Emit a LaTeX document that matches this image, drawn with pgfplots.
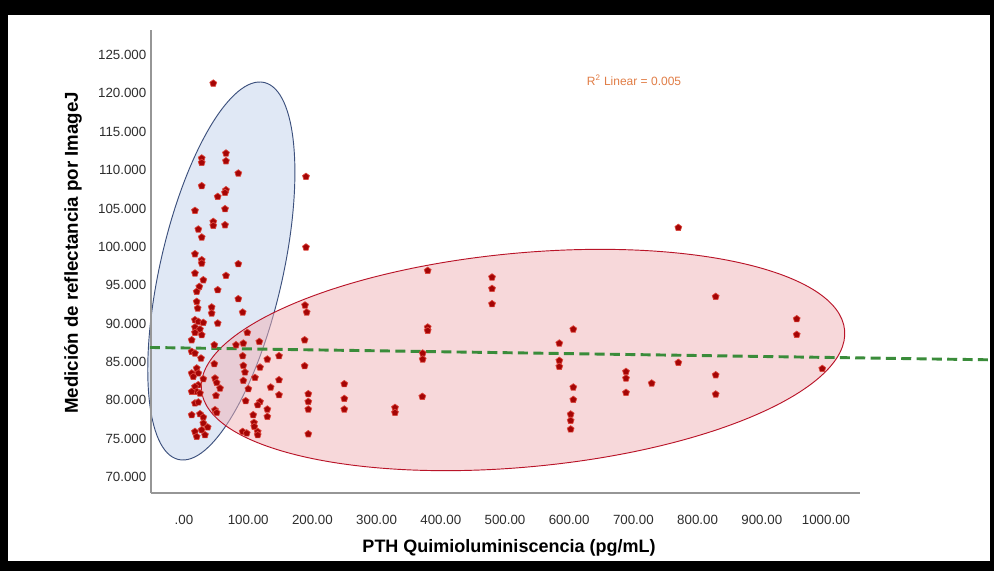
\documentclass[border=0pt]{standalone}
\usepackage{pgfplots}
\pgfplotsset{compat=1.18}
\usepackage{pgfplotstable}
\usetikzlibrary{plotmarks}
\usepackage{fontspec}
\setmainfont{Liberation Sans}
\definecolor{markfill}{RGB}{165,5,5}
\definecolor{markedge}{RGB}{220,70,60}
\definecolor{bluefill}{RGB}{195,210,236}
\definecolor{blueedge}{RGB}{60,80,125}
\definecolor{redfill}{RGB}{240,178,183}
\definecolor{rededge}{RGB}{185,20,40}
\definecolor{fitgreen}{RGB}{58,140,58}
\definecolor{axisgray}{RGB}{150,150,150}
\definecolor{ticktext}{RGB}{45,45,45}
\definecolor{rtext}{RGB}{225,125,70}

\pgfplotstableread{
x y
45.6 121.3
27.6 111.54
27.6 110.96
65.4 112.19
65.4 111.18
84.6 109.58
190.0 109.14
27.6 107.93
65.4 107.40
63.9 107.05
52.5 106.53
17.1 104.71
63.9 104.93
45.6 103.27
45.6 102.75
63.9 102.84
22.3 102.28
27.6 101.24
190.0 99.94
17.1 99.06
27.6 98.28
27.6 97.85
84.6 97.76
17.1 96.55
65.4 96.24
30.1 95.67
23.8 94.80
19.8 94.15
52.5 94.37
19.8 92.85
21.3 91.99
84.6 93.20
43.1 92.12
43.1 91.33
91.4 91.46
17.1 90.46
22.3 90.24
30.1 90.11
52.5 90.03
17.1 89.51
24.9 89.25
17.1 88.81
27.6 88.51
12.0 87.85
98.6 88.81
117.3 87.63
47.2 87.20
81.0 87.20
92.4 87.42
12.0 86.33
17.1 86.12
26.5 85.47
91.4 85.77
129.8 85.34
148.0 85.77
47.2 84.73
92.4 84.51
95.0 83.65
118.4 84.29
19.8 84.17
22.3 83.52
12.0 83.52
14.5 83.07
110.6 82.94
30.1 82.77
48.3 82.86
50.9 82.29
56.1 81.56
22.3 81.99
17.1 81.77
19.8 81.12
24.9 80.91
49.8 80.60
92.4 82.55
135.0 81.69
148.0 82.64
148.0 80.69
100.2 81.47
12.0 81.12
17.1 79.61
22.3 79.74
48.3 78.73
50.9 78.38
118.4 79.81
114.8 79.38
96.1 79.91
129.8 78.82
129.8 77.86
12.0 78.08
24.9 78.21
30.1 77.78
107.8 78.08
109.0 77.08
109.5 76.56
30.1 77.00
36.9 76.48
27.6 76.13
17.1 75.90
19.8 75.25
91.4 75.90
97.7 75.70
114.8 75.90
114.8 75.47
32.7 75.47
188.5 92.38
191.1 91.46
187.9 87.85
187.9 84.47
193.6 80.82
193.6 79.81
193.6 78.82
193.6 75.60
249.7 82.12
249.7 80.20
249.7 78.82
328.7 79.03
328.7 78.38
371.2 80.47
371.8 86.12
371.8 85.34
379.6 89.51
379.6 89.07
379.6 96.89
479.8 96.03
479.8 94.54
479.8 92.55
584.6 87.42
584.6 85.16
584.6 84.38
606.4 89.25
606.4 81.69
606.4 80.07
602.3 78.17
602.3 77.34
602.3 76.22
688.5 83.72
688.5 82.86
688.5 80.99
728.5 82.21
770.0 102.49
770.0 84.90
828.2 93.50
828.2 83.29
828.2 80.78
954.4 90.59
954.4 88.55
994.2 84.11
}\pthdata

\begin{document}
\begin{tikzpicture}
% frame
\fill[black] (0,0) rectangle (745.5pt,428.25pt);
\fill[white] (6pt,7.5pt) rectangle (742.5pt,417pt);
% ellipses
\draw[blueedge, line width=0.7pt, fill=bluefill, fill opacity=0.5, rotate around={77.2:(166pt,225pt)}]
  (166pt,225pt) ellipse (145pt and 46pt);
\draw[rededge, line width=0.7pt, fill=redfill, fill opacity=0.5, rotate around={5.3:(392.25pt,158.25pt)}]
  (392.25pt,158.25pt) ellipse (242.25pt and 80.25pt);
\begin{axis}[
  at={(113.25pt,58.5pt)}, anchor=south west,
  scale only axis, width=531.75pt, height=347.25pt,
  xmin=-51.4, xmax=1053, ymin=67.91, ymax=128.26,
  axis x line*=bottom, axis y line*=left,
  axis line style={draw=axisgray, line width=0.8pt, -},
  major tick length=0pt,
  xtick={0,100,200,300,400,500,600,700,800,900,1000},
  xticklabels={.00,100.00,200.00,300.00,400.00,500.00,600.00,700.00,800.00,900.00,1000.00},
  ytick={70,75,80,85,90,95,100,105,110,115,120,125},
  yticklabels={70.000,75.000,80.000,85.000,90.000,95.000,100.000,105.000,110.000,115.000,120.000,125.000},
  tick label style={font=\fontsize{10}{12}\selectfont, text=ticktext},
  /pgf/number format/assume math mode=true,
  x tick label style={yshift=-13pt},
  clip=false,
]
\addplot[fitgreen, line width=2.2pt, dash pattern=on 7.5pt off 4pt] coordinates {(-53,86.88) (1255,85.27)};
\addplot[only marks, mark=pentagon*, mark size=2.7pt,
  mark options={fill=markfill, draw=markedge, line width=0.5pt}] table[x=x,y=y] {\pthdata};
\node[text=rtext, font=\fontsize{9}{11}\selectfont] at (axis cs:701,121.7) {R\textsuperscript{2} Linear = 0.005};
\end{axis}
\node[font=\bfseries\fontsize{13.5}{16}\selectfont] at (381.75pt,17.5pt) {PTH Quimioluminiscencia (pg/mL)};
\node[font=\bfseries\fontsize{14}{16}\selectfont, rotate=90] at (54.75pt,238.5pt) {Medición de reflectancia por ImageJ};
\end{tikzpicture}
\end{document}
